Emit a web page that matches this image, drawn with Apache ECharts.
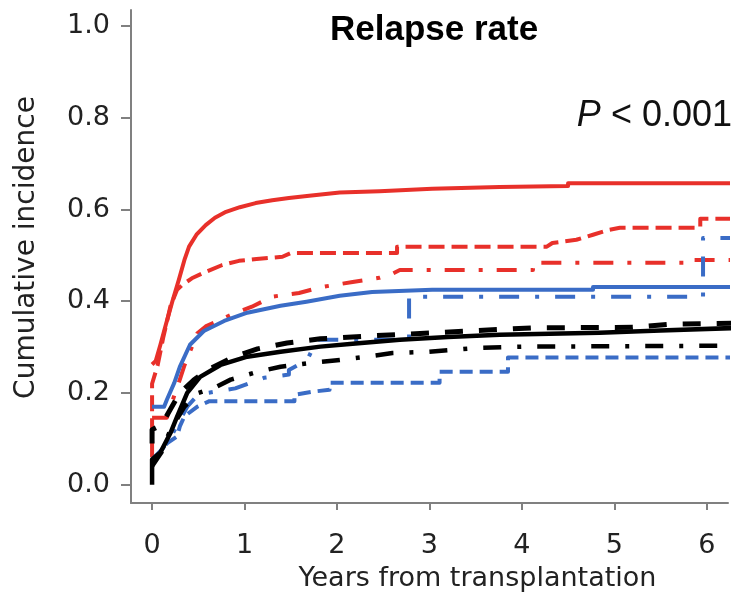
<!DOCTYPE html>
<html>
<head>
<meta charset="utf-8">
<script src="https://cdn.jsdelivr.net/npm/echarts@6/dist/echarts.min.js"></script>
<style>html,body{margin:0;padding:0;background:#fff}#c{width:740px;height:600px}</style>
</head>
<body>
<div id="c"></div>
<script>
// Tick labels
var xTicks = [0, 1, 2, 3, 4, 5, 6];
var yTicks = [0, 0.2, 0.4, 0.6, 0.8, 1.0];

// Series values: [years, cumulative incidence]
var redSolid = [[0,0.262],[0.04,0.27],[0.09,0.305],[0.15,0.35],[0.22,0.40],[0.29,0.447],[0.35,0.49],[0.40,0.519],[0.48,0.545],[0.58,0.566],[0.68,0.582],[0.80,0.595],[0.95,0.605],[1.12,0.614],[1.3,0.62],[1.48,0.625],[1.7,0.63],[2.03,0.637],[2.46,0.64],[3.03,0.645],[3.76,0.649],[4.5,0.651],[4.5,0.657],[6.36,0.657]];
var redDash = [[0,0.06],[0,0.22],[0.06,0.26],[0.12,0.32],[0.2,0.39],[0.27,0.425],[0.33,0.436],[0.43,0.45],[0.58,0.464],[0.76,0.479],[0.94,0.488],[1.13,0.492],[1.41,0.497],[1.5,0.505],[2.65,0.505],[2.65,0.519],[4.27,0.519],[4.33,0.527],[4.59,0.534],[4.77,0.545],[4.95,0.556],[5.06,0.56],[5.93,0.56],[5.93,0.58],[6.36,0.58]];
var redDashDot = [[0,0.146],[0.16,0.146],[0.2,0.17],[0.25,0.2],[0.3,0.229],[0.35,0.26],[0.41,0.29],[0.49,0.33],[0.58,0.345],[0.67,0.353],[0.85,0.37],[1.08,0.388],[1.3,0.41],[1.59,0.418],[1.84,0.431],[2.17,0.442],[2.46,0.451],[2.6,0.46],[2.68,0.468],[4.12,0.468],[4.12,0.484],[5.85,0.484],[5.85,0.49],[6.36,0.49]];
var blueSolid = [[0,0.17],[0.13,0.17],[0.16,0.185],[0.24,0.222],[0.3,0.257],[0.41,0.305],[0.56,0.335],[0.78,0.357],[1.03,0.375],[1.39,0.39],[1.67,0.399],[2.03,0.412],[2.38,0.42],[3.03,0.425],[4.77,0.425],[4.77,0.431],[6.36,0.431]];
var blueDash = [[0,0.055],[0.1,0.075],[0.16,0.09],[0.27,0.105],[0.3,0.127],[0.35,0.149],[0.49,0.17],[0.62,0.182],[1.54,0.182],[1.54,0.196],[1.75,0.203],[1.92,0.207],[1.92,0.222],[3.11,0.222],[3.11,0.246],[3.85,0.246],[3.85,0.277],[6.36,0.277]];
var blueDashDot = [[0,0.05],[0.12,0.08],[0.22,0.11],[0.3,0.14],[0.38,0.17],[0.47,0.19],[0.6,0.2],[0.9,0.21],[1.21,0.233],[1.48,0.24],[1.48,0.25],[1.68,0.272],[1.78,0.316],[2.78,0.316],[2.78,0.41],[5.96,0.41],[5.96,0.538],[6.36,0.538]];
var blackSolid = [[0,0],[0,0.055],[0.09,0.07],[0.2,0.113],[0.27,0.148],[0.38,0.2],[0.52,0.235],[0.74,0.261],[1.03,0.279],[1.39,0.29],[1.82,0.301],[2.2,0.308],[2.68,0.316],[3.2,0.322],[3.76,0.327],[4.84,0.331],[5.5,0.336],[6.36,0.342]];
var blackDash = [[0,0.09],[0,0.12],[0.1,0.13],[0.2,0.165],[0.3,0.2],[0.45,0.228],[0.6,0.25],[0.89,0.279],[1.14,0.296],[1.46,0.309],[1.82,0.318],[2.32,0.324],[3.03,0.331],[4.12,0.342],[5.2,0.343],[5.6,0.35],[6.36,0.352]];
var blackDashDot = [[0,0.04],[0.1,0.07],[0.2,0.12],[0.35,0.17],[0.5,0.2],[0.67,0.211],[0.85,0.229],[1.14,0.246],[1.39,0.257],[1.73,0.266],[2.03,0.272],[2.32,0.279],[2.6,0.287],[3.0,0.29],[3.5,0.298],[4.0,0.301],[6.36,0.303]];

var RED = '#e8302a', BLUE = '#3a6cc6', BLACK = '#000000';
var FONT = 'DejaVu Sans';
var axisColor = '#808080';

function mk(name, data, color, type, width, z) {
  return {
    name: name, type: 'line', data: data, symbol: 'none', showSymbol: false,
    clip: false, z: z, animation: false,
    lineStyle: { color: color, width: width, type: type, cap: 'butt', join: 'round' }
  };
}

var chart = echarts.init(document.getElementById('c'), null, { renderer: 'canvas' });
chart.setOption({
  animation: false,
  backgroundColor: '#ffffff',
  title: [
    { text: 'Relapse rate', left: 330, top: 13, padding: 0,
      textStyle: { fontFamily: 'Liberation Sans', fontWeight: 'bold', fontSize: 35, color: '#000' } },
    { text: '{i|P} < 0.001', right: 8, top: 98, padding: 0,
      textStyle: { fontFamily: 'Liberation Sans', fontWeight: 'normal', fontSize: 36, color: '#111',
        rich: { i: { fontStyle: 'italic', fontFamily: 'Liberation Sans', fontSize: 36, color: '#111' } } } }
  ],
  grid: { left: 131, right: 12, top: 10, bottom: 97, containLabel: false },
  xAxis: {
    type: 'value', min: -0.228, max: 6.23,
    name: 'Years from transplantation', nameLocation: 'middle', nameGap: 62,
    nameTextStyle: { fontFamily: FONT, fontSize: 27, color: '#222', padding: [0, 0, 0, 96] },
    axisLine: { show: true, onZero: false, lineStyle: { color: axisColor, width: 2 } },
    axisTick: { show: true, length: 7, customValues: xTicks, lineStyle: { color: axisColor, width: 2 } },
    axisLabel: { customValues: xTicks, fontFamily: FONT, fontSize: 27, color: '#222', margin: 29,
      formatter: function (v) { return String(Math.round(v)); } },
    splitLine: { show: false }
  },
  yAxis: {
    type: 'value', min: -0.04, max: 1.035,
    name: 'Cumulative incidence', nameLocation: 'middle', nameGap: 90,
    nameTextStyle: { fontFamily: FONT, fontSize: 28, color: '#222', padding: [0, 0, 0, 18] },
    axisLine: { show: true, onZero: false, lineStyle: { color: axisColor, width: 2 } },
    axisTick: { show: true, length: 10, customValues: yTicks, lineStyle: { color: axisColor, width: 2 } },
    axisLabel: { customValues: yTicks, fontFamily: FONT, fontSize: 27, color: '#222', margin: 21,
      formatter: function (v) { return v.toFixed(1); } },
    splitLine: { show: false }
  },
  series: [
    mk('red solid', redSolid, RED, 'solid', 4, 2),
    mk('red dashed', redDash, RED, [16, 7], 4, 2),
    mk('red dash-dot', redDashDot, RED, [20, 14, 4, 14], 4, 2),
    mk('blue solid', blueSolid, BLUE, 'solid', 4, 3),
    mk('blue dashed', blueDash, BLUE, [13, 7], 4, 3),
    mk('blue dash-dot', blueDashDot, BLUE, [20, 16, 4, 16], 4, 3),
    mk('black solid', blackSolid, BLACK, 'solid', 4.5, 4),
    mk('black dashed', blackDash, BLACK, [18, 16], 5, 4),
    mk('black dash-dot', blackDashDot, BLACK, [18, 16, 4, 16], 4.5, 4)
  ]
});
</script>
</body>
</html>
